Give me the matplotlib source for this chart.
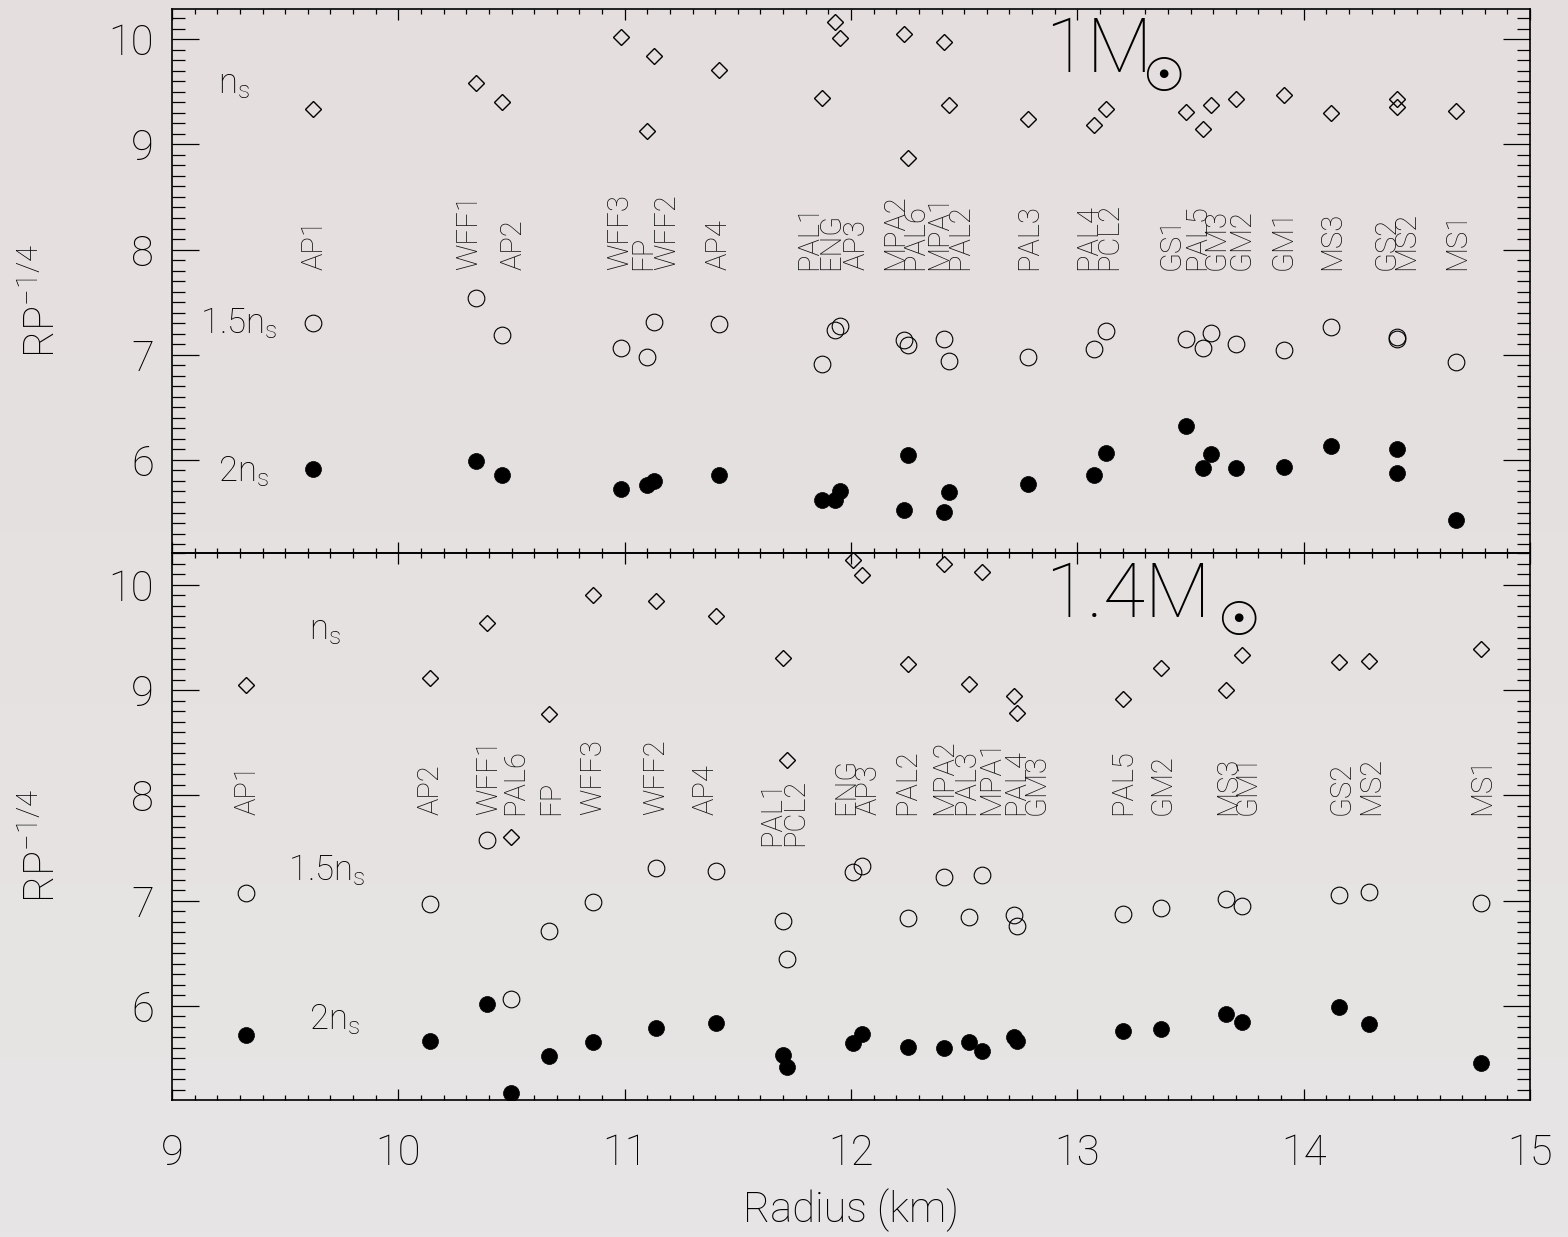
import numpy as np
import matplotlib
matplotlib.use('Agg')
import matplotlib.pyplot as plt
from matplotlib.ticker import MultipleLocator

plt.rcParams['font.family'] = ['Roboto', 'DejaVu Sans']
plt.rcParams['font.weight'] = 'light'
plt.rcParams['axes.labelweight'] = 'light'
plt.rcParams['mathtext.fontset'] = 'custom'
plt.rcParams['mathtext.rm'] = 'Roboto:light'
plt.rcParams['mathtext.it'] = 'Roboto:light'
plt.rcParams['mathtext.default'] = 'rm'

# ---------------- data: 1 Msun panel ----------------
top_models = ['AP1', 'WFF1', 'AP2', 'WFF3', 'FP', 'WFF2', 'AP4', 'PAL1', 'ENG', 'AP3',
              'MPA2', 'PAL6', 'MPA1', 'PAL2', 'PAL3', 'PAL4', 'PCL2', 'GS1', 'PAL5', 'GM3',
              'GM2', 'GM1', 'MS3', 'GS2', 'MS2', 'MS1']
top_radius = [9.625, 10.341, 10.456, 10.982, 11.10, 11.13, 11.416, 11.87, 11.93, 11.953,
              12.235, 12.25, 12.412, 12.432, 12.781, 13.073, 13.128, 13.482, 13.553, 13.59,
              13.70, 13.911, 14.122, 14.41, 14.414, 14.675]
top_ns = [9.333, 9.587, 9.40, 10.02, 9.127, 9.84, 9.71, 9.44, 10.167, 10.007,
          10.05, 8.867, 9.977, 9.377, 9.243, 9.187, 9.337, 9.31, 9.143, 9.377,
          9.433, 9.467, 9.30, 9.433, 9.36, 9.32]
top_ns15 = [7.303, 7.543, 7.187, 7.067, 6.983, 7.31, 7.29, 6.91, 7.237, 7.277,
            7.143, 7.093, 7.153, 6.943, 6.983, 7.05, 7.227, 7.15, 7.06, 7.21,
            7.103, 7.043, 7.26, 7.17, 7.15, 6.927]
top_ns2 = [5.917, 5.99, 5.853, 5.723, 5.763, 5.797, 5.853, 5.617, 5.617, 5.70,
           5.527, 6.043, 5.503, 5.693, 5.77, 5.853, 6.07, 6.32, 5.927, 6.053,
           5.927, 5.933, 6.133, 6.10, 5.88, 5.427]
top_label_x = [9.631, 10.312, 10.509, 10.978, 11.081, 11.189, 11.416, 11.815, 11.913, 12.025,
               12.195, 12.284, 12.389, 12.481, 12.787, 13.047, 13.142, 13.418, 13.527, 13.615,
               13.724, 13.911, 14.124, 14.365, 14.454, 14.677]
top_label_y = [7.81] * len(top_models)

# ---------------- data: 1.4 Msun panel ----------------
bot_models = ['AP1', 'AP2', 'WFF1', 'PAL6', 'FP', 'WFF3', 'WFF2', 'AP4', 'PAL1', 'PCL2',
              'ENG', 'AP3', 'PAL2', 'MPA2', 'PAL3', 'MPA1', 'PAL4', 'GM3', 'PAL5', 'GM2',
              'MS3', 'GM1', 'GS2', 'MS2', 'MS1']
bot_radius = [9.325, 10.138, 10.39, 10.499, 10.665, 10.858, 11.138, 11.402, 11.698, 11.718,
              12.008, 12.047, 12.25, 12.412, 12.521, 12.58, 12.718, 12.734, 13.201, 13.369,
              13.655, 13.728, 14.158, 14.29, 14.783]
bot_ns = [9.044, 9.116, 9.636, 7.602, 8.776, 9.908, 9.847, 9.704, 9.303, 8.333,
          10.238, 10.095, 9.245, 10.197, 9.054, 10.119, 8.946, 8.782, 8.912, 9.207,
          8.997, 9.337, 9.269, 9.276, 9.388]
bot_ns15 = [7.075, 6.963, 7.578, 6.061, 6.707, 6.983, 7.313, 7.279, 6.803, 6.446,
            7.272, 7.33, 6.837, 7.228, 6.847, 7.245, 6.864, 6.759, 6.871, 6.932,
            7.017, 6.949, 7.051, 7.082, 6.973]
bot_ns2 = [5.724, 5.663, 6.014, 5.17, 5.527, 5.653, 5.793, 5.833, 5.534, 5.415,
           5.646, 5.731, 5.605, 5.602, 5.653, 5.571, 5.704, 5.670, 5.765, 5.782,
           5.918, 5.85, 5.986, 5.823, 5.459]
bot_label_x = [9.335, 10.144, 10.40, 10.515, 10.677, 10.86, 11.14, 11.357, 11.653, 11.752,
               11.978, 12.077, 12.25, 12.412, 12.51, 12.62, 12.728, 12.82, 13.201, 13.375,
               13.665, 13.753, 14.168, 14.296, 14.789]
bot_label_y = [7.81] * 8 + [7.52, 7.52] + [7.81] * 15

x_ticks = [9, 10, 11, 12, 13, 14, 15]
y_ticks = [6, 7, 8, 9, 10]

# ---------------- figure ----------------
fig = plt.figure(figsize=(15.68, 12.37), dpi=100)
bg = fig.add_axes([0, 0, 1, 1], zorder=-10)
g = np.linspace(0, 1, 256)[:, None, None]
c_top = np.array([229, 222, 222]) / 255.0
c_bot = np.array([231, 229, 229]) / 255.0
bg.imshow(c_top * (1 - g) + c_bot * g, aspect='auto', extent=[0, 1, 0, 1], origin='upper')
bg.axis('off')

ax1 = fig.add_axes([0.1097, 0.55295, 0.8661, 0.43977])
ax2 = fig.add_axes([0.1097, 0.11075, 0.8661, 0.4422])


def panel(ax, r, ns, ns15, ns2, names, lx, ly, ylim):
    ax.set_facecolor('none')
    ax.plot(r, ns, ls='none', marker='D', ms=8, mfc='none', mec='k', mew=1.0)
    ax.plot(r, ns15, ls='none', marker='o', ms=12, mfc='none', mec='k', mew=0.8)
    ax.plot(r, ns2, ls='none', marker='o', ms=11.5, mfc='k', mec='k', mew=0.5)
    for name, x, y in zip(names, lx, ly):
        ax.text(x, y, name, rotation=90, ha='center', va='bottom', fontsize=21,
                color='#111111')
    ax.set_xlim(9, 15)
    ax.set_ylim(*ylim)
    ax.set_xticks(x_ticks)
    ax.set_yticks(y_ticks)
    ax.xaxis.set_minor_locator(MultipleLocator(0.1))
    ax.yaxis.set_minor_locator(MultipleLocator(0.1))
    ax.tick_params(which='both', direction='in', top=True, right=True, width=0.9)
    ax.tick_params(axis='x', which='major', length=7.9, labelsize=30, pad=24)
    ax.tick_params(axis='x', which='minor', length=3.6)
    ax.tick_params(axis='y', which='major', length=19.4, labelsize=30, pad=13)
    ax.tick_params(axis='y', which='minor', length=9.7)
    for s in ax.spines.values():
        s.set_linewidth(1.2)
    ax.set_ylabel('RP$^{-1/4}$', fontsize=30, fontweight='light', va='center')
    ax.yaxis.set_label_coords(-0.0957, 0.464)


panel(ax1, top_radius, top_ns, top_ns15, top_ns2, top_models, top_label_x, top_label_y, (5.115, 10.287))
panel(ax2, bot_radius, bot_ns, bot_ns15, bot_ns2, bot_models, bot_label_x, bot_label_y, (5.105, 10.303))
ax1.tick_params(axis='x', labelbottom=False)

ax2.set_xlabel('Radius (km)', fontsize=30, fontweight='light', va='center')
ax2.xaxis.set_label_coords(0.5, -0.201)

# series labels
ax1.text(9.203, 9.487, 'n$_s$', fontsize=25, ha='left', va='baseline')
ax1.text(9.124, 7.208, '1.5n$_s$', fontsize=25, ha='left', va='baseline')
ax1.text(9.203, 5.793, '2n$_s$', fontsize=25, ha='left', va='baseline')
ax2.text(9.605, 9.487, 'n$_s$', fontsize=25, ha='left', va='baseline')
ax2.text(9.513, 7.195, '1.5n$_s$', fontsize=25, ha='left', va='baseline')
ax2.text(9.605, 5.78, '2n$_s$', fontsize=25, ha='left', va='baseline')

# mass labels
sun_fam = ['DejaVu Sans', 'Noto Sans CJK JP', 'Noto Sans']
ax1.text(12.857, 9.687, '1M', fontsize=55, ha='left', va='baseline')
ax1.text(13.379, 9.63, '\u2609', fontsize=34, family=sun_fam, fontweight='normal',
         ha='center', va='center')
ax2.text(12.857, 9.696, '1.4M', fontsize=55, ha='left', va='baseline')
ax2.text(13.711, 9.64, '\u2609', fontsize=34, family=sun_fam, fontweight='normal',
         ha='center', va='center')

fig.savefig('out.png', dpi=100)
